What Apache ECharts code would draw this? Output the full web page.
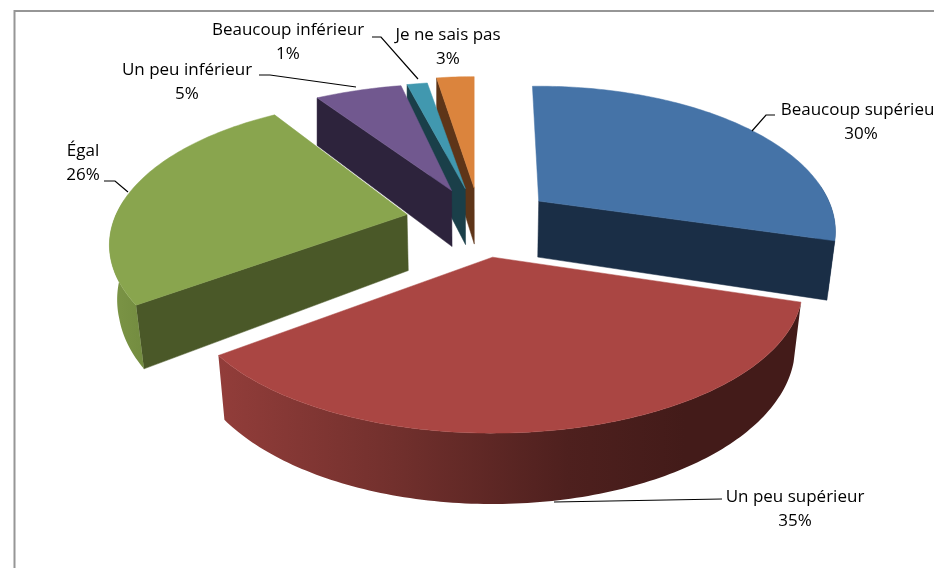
<!DOCTYPE html>
<html><head><meta charset="utf-8">
<style>html,body{margin:0;padding:0;background:#fff;overflow:hidden}#c{width:934px;height:568px}</style>
<script src="https://cdn.jsdelivr.net/npm/echarts@6/dist/echarts.min.js"></script>
</head><body><div id="c"></div>
<script>
// Data
const categories = ['Beaucoup supérieur','Un peu supérieur','Égal','Un peu inférieur','Beaucoup inférieur','Je ne sais pas'];
const values = [29.9, 35.1, 26, 5, 1.4, 2.6];
const explode = [0.25, 0.25, 0.25, 0.25, 0.25, 0.25];

// Style
const topColors = ['#4573A7','#AA4643','#89A54E','#71588F','#4198AF','#DB843D'];
const cutColors = ['#1A2E46','#4A1C1A','#4A5828','#2D233C','#1A3F49','#5E3518'];
const rimStops = [
  [[0,'#1A2E46'],[1,'#1A2E46']],
  [[0,'#923D3A'],[0.3,'#72302D'],[0.6,'#4E201E'],[0.8,'#431B19'],[1,'#431B19']],
  [[0,'#7C9546'],[1,'#738C40']],
  [[0,'#2D233C'],[1,'#2D233C']],
  [[0,'#1A3F49'],[1,'#1A3F49']],
  [[0,'#5E3518'],[1,'#5E3518']]
];
const drawOrder = [5,4,3,0,2,1];
const labelBoxes = [
  {x:861,y:122,line:[[752,131],[766,115],[775,115]]},
  {x:795,y:509,line:[[554,502],[722,499]]},
  {x:83,y:163,line:[[104,181],[115,181],[128,192]]},
  {x:187,y:82,line:[[259,75],[270,75],[356,87]]},
  {x:288,y:42,line:[[372,37],[381,37],[418,79]]},
  {x:448,y:47,line:[]}
];
// Projection tuning, per slice (perspective of the original 3D view)
const scaleX = [0.967,1.01,0.97,0.985,0.94,0.93];
const scaleY = [1,1,1,0.93,0.93,0.97];
const trimStart = [-1.5,0,1,0,0,0];
const trimEnd = [-2,-2,0,2.5,0,0];
const cx=480, cy=221, Rx=300, Ry=139, K=0.21, Depth=56, Shrink=0.023;
function wOf(Y){return 1/(1-K*Y);}
function apex(ox,oy){const w=wOf(oy);return [cx+Rx*ox*w, cy+Ry*oy*w];}
function rim(i,A,X,Y,z){
  const w=wOf(Y);
  const x=A[0]+Rx*scaleX[i]*X*w, y=A[1]+Ry*scaleY[i]*Y*w+Depth*z*w;
  const s=Shrink*z*Math.max(0,Math.min(1,(Y+0.8)/1.1));
  return [cx+(x-cx)*(1-s), y];
}
const total=values.reduce((a,b)=>a+b,0);
const DEG=Math.PI/180;
function sliceAngles(i){let s=0;for(let j=0;j<i;j++)s+=values[j];return [s/total*2*Math.PI,(s+values[i])/total*2*Math.PI];}
function renderSlice(params,api){
  const i=api.value(0), [b0,b1]=sliceAngles(i), m=(b0+b1)/2, E=explode[i];
  const a0=b0+trimStart[i]*DEG, a1=b1+trimEnd[i]*DEG;
  const A=apex(E*Math.sin(m),-E*Math.cos(m));
  const n=Math.max(6,Math.round((a1-a0)*60));
  const rimT=[],rimB=[];
  for(let k=0;k<=n;k++){const a=a0+(a1-a0)*k/n;const X=Math.sin(a),Y=-Math.cos(a);rimT.push(rim(i,A,X,Y,0));rimB.push(rim(i,A,X,Y,1));}
  const aT=A, aB=rim(i,A,0,0,1);
  const mid=rimT[Math.floor(n/2)];
  const children=[];
  const cut=(rt,rb)=>{
    const ex=rt[0]-aT[0],ey=rt[1]-aT[1];
    const c2=ex*(mid[1]-aT[1])-ey*(mid[0]-aT[0]);
    if(Math.abs(ex)>20 && ex*c2<0) children.push({type:'polygon',shape:{points:[aT,rt,rb,aB]},style:{fill:cutColors[i],stroke:cutColors[i],lineWidth:0.5}});
  };
  cut(rimT[0],rimB[0]);
  cut(rimT[n],rimB[n]);
  const fro=[],bak=[];
  for(let k=0;k<=n;k++){const a=a0+(a1-a0)*k/n;if(Math.cos(a)<0.12){fro.push(rimT[k]);bak.unshift(rimB[k]);}}
  if(fro.length>1){
    children.push({type:'polygon',shape:{points:fro.concat(bak)},style:{
      fill:new echarts.graphic.LinearGradient(0,0,1,0,rimStops[i].map(s=>({offset:s[0],color:s[1]})))}});
  }
  children.push({type:'polygon',shape:{points:[aT].concat(rimT)},style:{fill:topColors[i],stroke:topColors[i],lineWidth:0.5}});
  return {type:'group',children};
}
const chart=echarts.init(document.getElementById('c'),null,{renderer:'canvas'});
const graphics=[{type:'rect',shape:{x:14.5,y:11,width:1000,height:700},style:{fill:'#fff',stroke:'#969696',lineWidth:2},z:-1}];
categories.forEach((c,i)=>{
  const b=labelBoxes[i];
  if(b.line.length) graphics.push({type:'polyline',shape:{points:b.line},style:{fill:'none',stroke:'#000',lineWidth:1.2},z:5});
  graphics.push({type:'text',x:b.x,y:b.y,z:6,style:{text:c+'\n'+Math.round(values[i])+'%',fill:'#000',font:'17px "Open Sans"',lineHeight:24,align:'center',verticalAlign:'middle'}});
});
chart.setOption({
  animation:false,
  backgroundColor:'#fff',
  graphic:graphics,
  series:[{type:'custom',coordinateSystem:'none',renderItem:renderSlice,silent:true,
    data:drawOrder.map(i=>[i,values[i]]),encode:{value:1}}]
});
</script></body></html>
